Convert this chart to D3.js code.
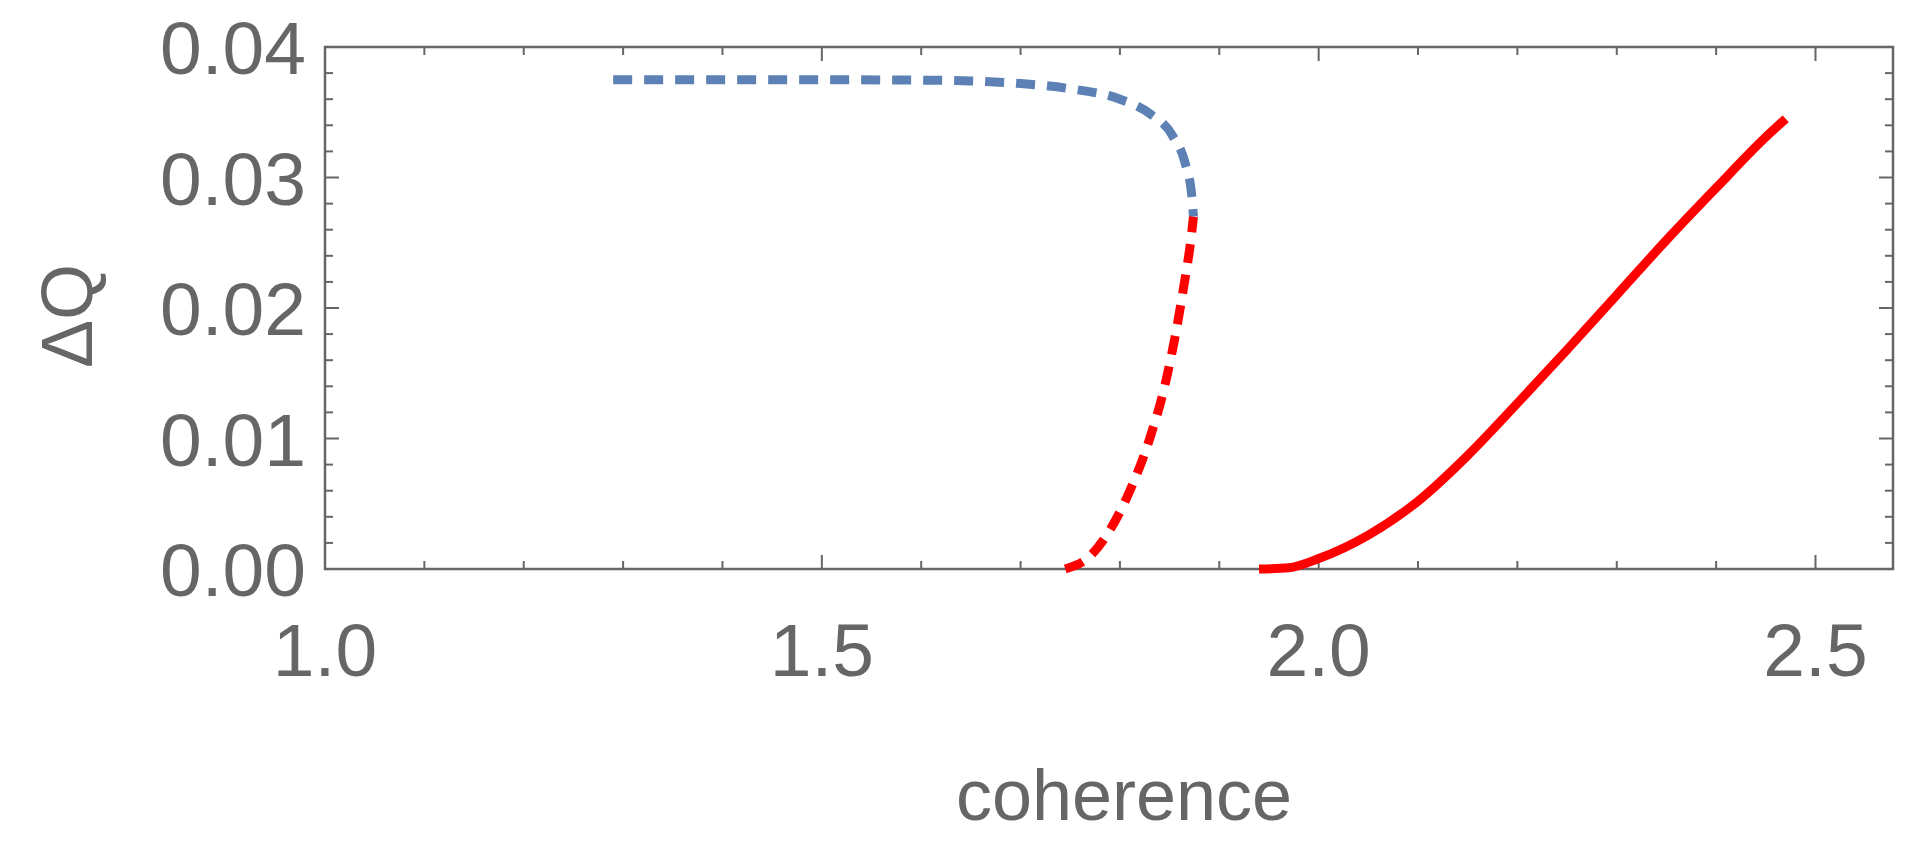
<!DOCTYPE html>
<html><head><meta charset="utf-8">
<script src="https://cdn.jsdelivr.net/npm/d3@7"></script>
<style>body{margin:0;background:#fff}text{font-family:"Liberation Sans",Arial,sans-serif;fill:#666}</style>
</head><body><div class="canvas"></div>
<script>
// 値
var blueX = [1.29,1.4,1.5,1.6,1.65,1.7,1.75,1.8,1.83,1.853,1.866,1.872,1.874];
var blueY = [0.0375,0.0375,0.03749,0.03746,0.0374,0.0372,0.0368,0.036,0.0349,0.0332,0.031,0.0288,0.027];
var redDashX = [1.745,1.77,1.79,1.81,1.83,1.845,1.856,1.865,1.871,1.874];
var redDashY = [0,0.001,0.003,0.006,0.01,0.014,0.018,0.022,0.025,0.027];
var redX = [1.94,1.97,2.0,2.05,2.1,2.15,2.2,2.25,2.3,2.35,2.4,2.45,2.47];
var redY = [0,0.0001,0.0008,0.0026,0.0052,0.0087,0.0127,0.0168,0.021,0.0252,0.0292,0.0331,0.0345];
var xTicks = [1.0,1.5,2.0,2.5];
var yTicks = [0,0.01,0.02,0.03,0.04];

var width = 1932, height = 844;
var x = d3.scaleLinear().domain([1.0,2.578]).range([325,1893]);
var y = d3.scaleLinear().domain([0,0.04]).range([569,47]);
var svg = d3.select(".canvas").append("svg").attr("width",width).attr("height",height);

// 枠
svg.append("rect").attr("x",325).attr("y",47).attr("width",1893-325).attr("height",569-47)
  .attr("fill","none").attr("stroke","#666").attr("stroke-width",2.5);

var xminor = d3.range(1.0,2.58,0.1);
var yminor = d3.range(0,0.0401,0.002);
xminor.forEach(function(v){
  var big = Math.abs(v*2-Math.round(v*2))<1e-6, len = big?14:8;
  svg.append("line").attr("x1",x(v)).attr("x2",x(v)).attr("y1",569).attr("y2",569-len).attr("stroke","#666").attr("stroke-width",2);
  svg.append("line").attr("x1",x(v)).attr("x2",x(v)).attr("y1",47).attr("y2",47+len).attr("stroke","#666").attr("stroke-width",2);
});
yminor.forEach(function(v){
  var big = Math.abs(v*100-Math.round(v*100))<1e-6, len = big?14:8;
  svg.append("line").attr("x1",325).attr("x2",325+len).attr("y1",y(v)).attr("y2",y(v)).attr("stroke","#666").attr("stroke-width",2);
  svg.append("line").attr("x1",1893).attr("x2",1893-len).attr("y1",y(v)).attr("y2",y(v)).attr("stroke","#666").attr("stroke-width",2);
});

svg.selectAll(".xl").data(xTicks).enter().append("text")
  .attr("x",function(d){return x(d);}).attr("y",676).attr("text-anchor","middle")
  .attr("font-size",75).text(function(d){return d.toFixed(1);});
svg.selectAll(".yl").data(yTicks).enter().append("text")
  .attr("x",306).attr("y",function(d){return y(d)+27;}).attr("text-anchor","end")
  .attr("font-size",75).text(function(d){return d.toFixed(2);});

svg.append("text").attr("x",1124).attr("y",820).attr("text-anchor","middle").attr("font-size",72).text("coherence");
svg.append("text").attr("transform","translate(92,316) rotate(-90)").attr("text-anchor","middle").attr("font-size",72).text("ΔQ");

var line = d3.line().x(function(d){return x(d[0]);}).y(function(d){return y(d[1]);}).curve(d3.curveMonotoneX);
function pts(a,b){return a.map(function(v,i){return [v,b[i]];});}

svg.append("path").attr("d",line(pts(blueX,blueY))).attr("fill","none").attr("stroke","#5e81b5")
  .attr("stroke-width",9).attr("stroke-dasharray","19,12");
svg.append("path").attr("d",line(pts(redDashX,redDashY))).attr("fill","none").attr("stroke","#ff0000")
  .attr("stroke-width",9).attr("stroke-dasharray","19,12");
svg.append("path").attr("d",line(pts(redX,redY))).attr("fill","none").attr("stroke","#ff0000")
  .attr("stroke-width",9);
</script></body></html>
